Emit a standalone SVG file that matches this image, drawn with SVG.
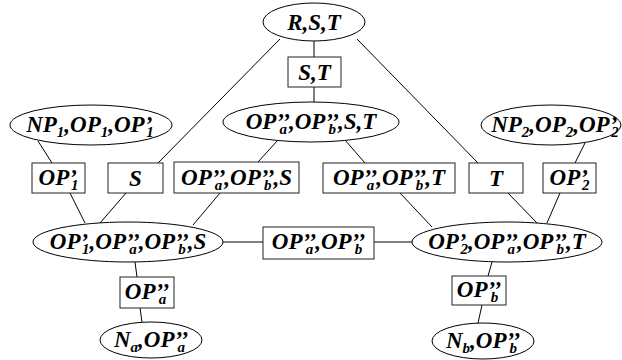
<svg xmlns="http://www.w3.org/2000/svg" width="622" height="360" viewBox="0 0 622 360">
  <style>
    .e { fill: #fff; stroke: #000; stroke-width: 1; }
    .b { fill: #fff; stroke: #222; stroke-width: 1; }
    .c line { stroke: #000; stroke-width: 1; }
    .s { font-size: 15px; }
  </style>
  <rect width="622" height="360" fill="#fff"/>

  <!-- connectors -->
  <g id="connectors" class="c">
    <line x1="314" y1="41" x2="314" y2="57"/>
    <line x1="314" y1="87" x2="314" y2="102"/>
    <line x1="280" y1="39" x2="158" y2="163"/>
    <line x1="126" y1="193" x2="100" y2="223"/>
    <line x1="38" y1="141" x2="52" y2="163"/>
    <line x1="70" y1="193" x2="85" y2="223"/>
    <line x1="278" y1="140" x2="258" y2="162"/>
    <line x1="220" y1="193" x2="193" y2="225"/>
    <line x1="345" y1="140" x2="365" y2="163"/>
    <line x1="400" y1="193" x2="432" y2="227"/>
    <line x1="357" y1="39" x2="478" y2="163"/>
    <line x1="508" y1="193" x2="537" y2="223"/>
    <line x1="585" y1="143" x2="575" y2="163"/>
    <line x1="560" y1="193" x2="547" y2="223"/>
    <line x1="223" y1="242" x2="263" y2="242"/>
    <line x1="374" y1="242" x2="412" y2="242"/>
    <line x1="135" y1="262" x2="137" y2="277"/>
    <line x1="140" y1="308" x2="142" y2="322"/>
    <line x1="492" y1="262" x2="488" y2="276"/>
    <line x1="482" y1="305" x2="478" y2="323"/>
  </g>

  <g font-family="Liberation Serif, Times New Roman, serif" font-weight="bold" font-style="italic" font-size="23" text-anchor="middle" fill="#000">
  <!-- cliques (ellipses) -->
  <g id="rst">
    <ellipse class="e" cx="314" cy="22" rx="51" ry="19"/>
    <text x="314" y="30">R,S,T</text>
  </g>
  <g id="opab-st">
    <ellipse class="e" cx="311" cy="122" rx="88" ry="20"/>
    <text x="311" y="129">OP’’<tspan class="s" dx="-10.5" dy="5">a</tspan><tspan dx="2" dy="-5">,OP’’</tspan><tspan class="s" dx="-10.5" dy="5">b</tspan><tspan dx="2" dy="-5">,S,T</tspan></text>
  </g>
  <g id="np1">
    <ellipse class="e" cx="91" cy="125" rx="81" ry="20"/>
    <text x="90" y="132">NP<tspan class="s" dy="5">1</tspan><tspan dy="-5">,OP</tspan><tspan class="s" dy="5">1</tspan><tspan dy="-5">,OP’</tspan><tspan class="s" dx="-6" dy="5">1</tspan></text>
  </g>
  <g id="np2">
    <ellipse class="e" cx="551" cy="125" rx="70" ry="20"/>
    <text x="555" y="132">NP<tspan class="s" dy="5">2</tspan><tspan dy="-5">,OP</tspan><tspan class="s" dy="5">2</tspan><tspan dy="-5">,OP’</tspan><tspan class="s" dx="-6" dy="5">2</tspan></text>
  </g>
  <g id="left-clique">
    <ellipse class="e" cx="128" cy="242" rx="95" ry="20"/>
    <text x="128" y="249">OP’<tspan class="s" dx="-6" dy="5">1</tspan><tspan dy="-5">,OP’’</tspan><tspan class="s" dx="-10.5" dy="5">a</tspan><tspan dx="2" dy="-5">,OP’’</tspan><tspan class="s" dx="-10.5" dy="5">b</tspan><tspan dx="2" dy="-5">,S</tspan></text>
  </g>
  <g id="right-clique">
    <ellipse class="e" cx="507" cy="242" rx="95" ry="20"/>
    <text x="507" y="249">OP’<tspan class="s" dx="-6" dy="5">2</tspan><tspan dy="-5">,OP’’</tspan><tspan class="s" dx="-10.5" dy="5">a</tspan><tspan dx="2" dy="-5">,OP’’</tspan><tspan class="s" dx="-10.5" dy="5">b</tspan><tspan dx="2" dy="-5">,T</tspan></text>
  </g>
  <g id="na">
    <ellipse class="e" cx="151" cy="340" rx="51" ry="18"/>
    <text x="151" y="347">N<tspan class="s" dy="5">a</tspan><tspan dy="-5">,OP’’</tspan><tspan class="s" dx="-10.5" dy="5">a</tspan></text>
  </g>
  <g id="nb">
    <ellipse class="e" cx="483" cy="341" rx="51" ry="18"/>
    <text x="483" y="348">N<tspan class="s" dy="5">b</tspan><tspan dy="-5">,OP’’</tspan><tspan class="s" dx="-10.5" dy="5">b</tspan></text>
  </g>

  <!-- separators (boxes) -->
  <g id="sep-st">
    <rect class="b" x="288" y="57" width="53" height="30"/>
    <text x="314.5" y="80">S,T</text>
  </g>
  <g id="sep-op1">
    <rect class="b" x="32" y="163" width="53" height="30"/>
    <text x="58.5" y="185">OP’<tspan class="s" dx="-6" dy="5">1</tspan></text>
  </g>
  <g id="sep-s">
    <rect class="b" x="108" y="163" width="55" height="30"/>
    <text x="135.5" y="186">S</text>
  </g>
  <g id="sep-ab-s">
    <rect class="b" x="174" y="162" width="125" height="31"/>
    <text x="236.5" y="185">OP’’<tspan class="s" dx="-10.5" dy="5">a</tspan><tspan dx="2" dy="-5">,OP’’</tspan><tspan class="s" dx="-10.5" dy="5">b</tspan><tspan dx="2" dy="-5">,S</tspan></text>
  </g>
  <g id="sep-ab-t">
    <rect class="b" x="323" y="163" width="132" height="30"/>
    <text x="389" y="185">OP’’<tspan class="s" dx="-10.5" dy="5">a</tspan><tspan dx="2" dy="-5">,OP’’</tspan><tspan class="s" dx="-10.5" dy="5">b</tspan><tspan dx="2" dy="-5">,T</tspan></text>
  </g>
  <g id="sep-t">
    <rect class="b" x="469" y="163" width="54" height="30"/>
    <text x="496" y="186">T</text>
  </g>
  <g id="sep-op2">
    <rect class="b" x="543" y="163" width="53" height="30"/>
    <text x="569.5" y="185">OP’<tspan class="s" dx="-6" dy="5">2</tspan></text>
  </g>
  <g id="sep-ab">
    <rect class="b" x="263" y="227" width="111" height="32"/>
    <text x="318.5" y="249">OP’’<tspan class="s" dx="-10.5" dy="5">a</tspan><tspan dx="2" dy="-5">,OP’’</tspan><tspan class="s" dx="-10.5" dy="5">b</tspan></text>
  </g>
  <g id="sep-a">
    <rect class="b" x="120" y="277" width="54" height="31"/>
    <text x="147" y="299">OP’’<tspan class="s" dx="-10.5" dy="5">a</tspan></text>
  </g>
  <g id="sep-b">
    <rect class="b" x="452" y="276" width="54" height="29"/>
    <text x="479" y="297">OP’’<tspan class="s" dx="-10.5" dy="5">b</tspan></text>
  </g>
  </g>
</svg>
